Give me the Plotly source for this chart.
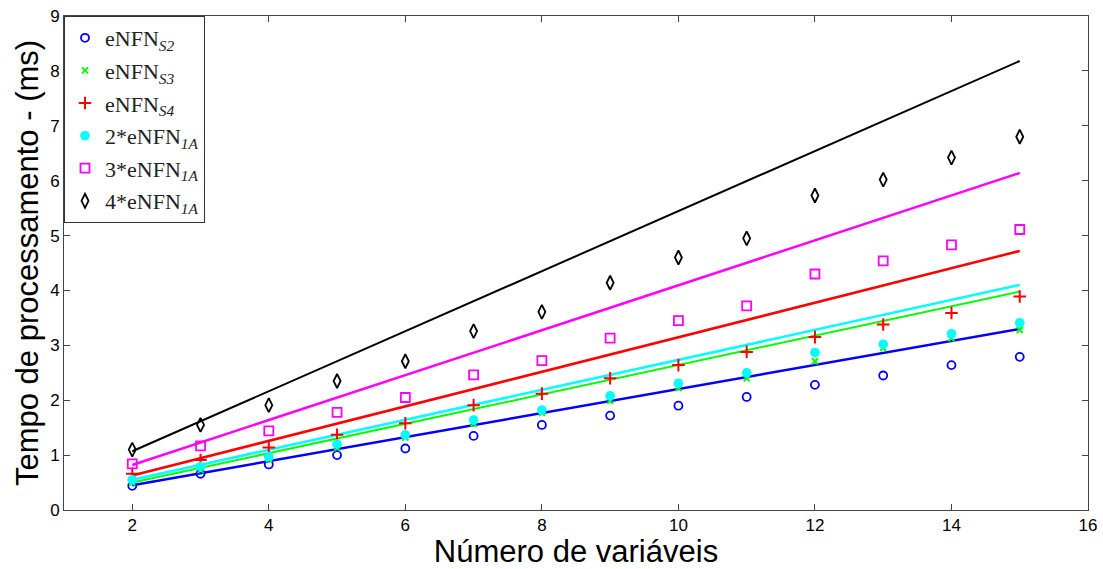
import plotly.graph_objects as go

x_vals = [2, 3, 4, 5, 6, 7, 8, 9, 10, 11, 12, 13, 14, 15]

s2 = [0.44, 0.66, 0.83, 1.00, 1.12, 1.35, 1.55, 1.72, 1.90, 2.06, 2.28, 2.45, 2.64, 2.79]
s3 = [0.50, 0.73, 0.93, 1.13, 1.32, 1.57, 1.77, 1.99, 2.22, 2.40, 2.71, 2.95, 3.13, 3.28]
s4 = [0.66, 0.91, 1.14, 1.37, 1.58, 1.91, 2.12, 2.40, 2.64, 2.88, 3.15, 3.38, 3.59, 3.89]
a2 = [0.55, 0.79, 0.97, 1.20, 1.37, 1.64, 1.82, 2.08, 2.31, 2.50, 2.87, 3.02, 3.21, 3.41]
a3 = [0.84, 1.17, 1.44, 1.78, 2.05, 2.46, 2.72, 3.13, 3.45, 3.72, 4.30, 4.54, 4.83, 5.11]
a4 = [1.10, 1.55, 1.91, 2.35, 2.71, 3.26, 3.61, 4.14, 4.60, 4.95, 5.73, 6.02, 6.42, 6.80]

fit_x = [2, 15]
fit_s2 = [0.45, 3.30]
fit_s3 = [0.50, 3.98]
fit_s4 = [0.63, 4.72]
fit_a2 = [0.55, 4.10]
fit_a3 = [0.82, 6.14]
fit_a4 = [1.07, 8.18]

names = ["eNFN<sub><i>S2</i></sub>", "eNFN<sub><i>S3</i></sub>", "eNFN<sub><i>S4</i></sub>",
         "2*eNFN<sub><i>1A</i></sub>", "3*eNFN<sub><i>1A</i></sub>", "4*eNFN<sub><i>1A</i></sub>"]

x_ticks = [2, 4, 6, 8, 10, 12, 14, 16]
y_ticks = [0, 1, 2, 3, 4, 5, 6, 7, 8, 9]

fig = go.Figure()

fits = [(fit_s2, "#0000ff", 2.5), (fit_s3, "#00ff00", 2), (fit_a2, "#00ffff", 2.5),
        (fit_s4, "#ff0000", 2.5), (fit_a3, "#ff00ff", 2.5), (fit_a4, "#000000", 2)]
for ys, c, w in fits:
    fig.add_trace(go.Scatter(x=fit_x, y=ys, mode="lines", line=dict(color=c, width=w),
                             showlegend=False, hoverinfo="skip"))

markers = [
    (s2, "#0000ff", "circle-open", 8, 1.8),
    (s3, "#00ff00", "x-thin-open", 6, 2),
    (s4, "#ff0000", "cross-thin-open", 9, 2),
    (a2, "#00ffff", "asterisk-open", 8, 3),
    (a3, "#ff00ff", "square-open", 9, 1.8),
    (a4, "#000000", "diamond-tall-open", 10, 1.8),
]
for i, (ys, c, sym, sz, lw) in enumerate(markers):
    fig.add_trace(go.Scatter(x=x_vals, y=ys, mode="markers", name=names[i],
                             legendgroup=str(i),
                             marker=dict(symbol=sym, size=sz, color=c,
                                         line=dict(color=c, width=lw))))

fig.update_layout(
    width=1103, height=569,
    margin=dict(l=64, r=15, t=16, b=59),
    paper_bgcolor="white", plot_bgcolor="white",
    font=dict(family="Liberation Sans, Arial", color="black"),
    legend=dict(x=0, y=1, xanchor="left", yanchor="top",
                bgcolor="white", bordercolor="#333", borderwidth=1,
                font=dict(family="Liberation Serif, serif", size=22, color="#222"),
                tracegroupgap=1, traceorder="grouped", itemwidth=30),
    xaxis=dict(range=[1, 16], tickvals=x_ticks, ticks="inside", ticklen=6,
               tickcolor="#444", showline=True, linecolor="#444", linewidth=1,
               mirror="ticks", showgrid=False, zeroline=False, automargin=False,
               tickfont=dict(size=17),
               title=dict(text="Número de variáveis", font=dict(size=31), standoff=4)),
    yaxis=dict(range=[0, 9], tickvals=y_ticks, ticks="inside", ticklen=6,
               tickcolor="#444", showline=True, linecolor="#444", linewidth=1,
               mirror="ticks", showgrid=False, zeroline=False, automargin=False,
               tickfont=dict(size=17),
               title=dict(text="Tempo de processamento - (ms)", font=dict(size=31), standoff=2)),
)

fig.write_html("out.html")
